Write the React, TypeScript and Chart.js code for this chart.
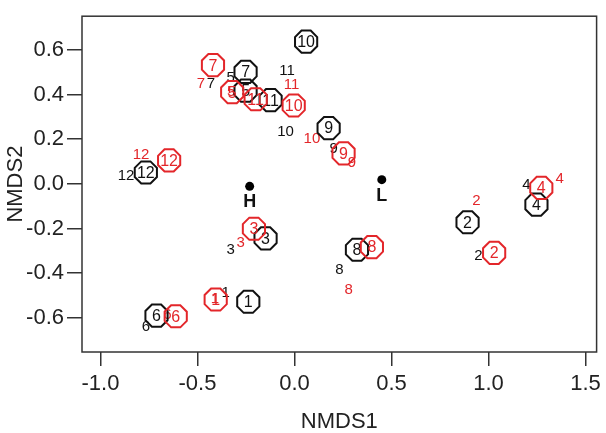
import React, { useEffect, useRef } from "react";
import { Chart, registerables } from "chart.js";

Chart.register(...registerables);

// ---- data ----
const sites = ["1", "2", "3", "4", "5", "6", "7", "8", "9", "10", "11", "12"];

const blackRingX = [-0.238, 0.892, -0.149, 1.247, -0.252, -0.711, -0.252, 0.322, 0.176, 0.06, -0.123, -0.766];
const blackRingY = [-0.528, -0.172, -0.244, -0.093, 0.418, -0.59, 0.502, -0.295, 0.25, 0.637, 0.375, 0.051];
const redRingX = [-0.406, 1.029, -0.209, 1.272, -0.321, -0.612, -0.42, 0.399, 0.253, -0.004, -0.2, -0.646];
const redRingY = [-0.518, -0.309, -0.201, -0.018, 0.411, -0.593, 0.532, -0.283, 0.137, 0.351, 0.379, 0.105];

const blackLabelX = [-0.355, 0.948, -0.329, 1.195, -0.329, -0.766, -0.43, 0.231, 0.202, -0.046, -0.038, -0.868];
const blackLabelY = [-0.489, -0.323, -0.295, -0.003, 0.476, -0.64, 0.447, -0.384, 0.159, 0.231, 0.505, 0.037];
const redLabelX = [-0.41, 0.938, -0.277, 1.367, -0.326, -0.655, -0.482, 0.279, 0.296, 0.09, -0.015, -0.791];
const redLabelY = [-0.516, -0.076, -0.263, 0.022, 0.41, -0.588, 0.447, -0.474, 0.092, 0.202, 0.443, 0.131];

const centroidNames = ["H", "L"];
const centroidX = [-0.231, 0.45];
const centroidY = [-0.011, 0.019];

const xTicks = [-1.0, -0.5, 0.0, 0.5, 1.0, 1.5];
const yTicks = [-0.6, -0.4, -0.2, 0.0, 0.2, 0.4, 0.6];

const BLACK = "#111111";
const RED = "#e3262a";
const FONT = "'Liberation Sans', Arial, sans-serif";

const toPts = (xs: number[], ys: number[]) => xs.map((x, i) => ({ x, y: ys[i] }));

const annotate = {
  id: "annotate",
  afterDatasetsDraw(chart: any) {
    const ctx = chart.ctx;
    const { left, top, right, bottom } = chart.chartArea;
    ctx.save();
    chart.data.datasets.forEach((ds: any, i: number) => {
      const meta = chart.getDatasetMeta(i);
      meta.data.forEach((el: any, j: number) => {
        const { x, y } = el.getProps(["x", "y"], true);
        const label = ds.names[j];
        if (ds.kind === "ring") {
          const R = 12;
          ctx.beginPath();
          for (let k = 0; k < 8; k++) {
            const a = Math.PI / 8 + (k * Math.PI) / 4;
            const px = x + R * Math.cos(a);
            const py = y + R * Math.sin(a);
            if (k === 0) ctx.moveTo(px, py);
            else ctx.lineTo(px, py);
          }
          ctx.closePath();
          ctx.lineWidth = 2;
          ctx.strokeStyle = ds.textColor;
          ctx.stroke();
          ctx.fillStyle = ds.textColor;
          ctx.font = `16px ${FONT}`;
          ctx.textAlign = "center";
          ctx.textBaseline = "middle";
          ctx.fillText(label, x, y + 1);
        } else if (ds.kind === "text") {
          ctx.fillStyle = ds.textColor;
          ctx.font = `15px ${FONT}`;
          ctx.textAlign = "center";
          ctx.textBaseline = "middle";
          ctx.fillText(label, x, y);
        } else if (ds.kind === "centroid") {
          ctx.fillStyle = "#111";
          ctx.font = `bold 18px ${FONT}`;
          ctx.textAlign = "center";
          ctx.textBaseline = "middle";
          ctx.fillText(label, x, y + 16);
        }
      });
    });
    ctx.strokeStyle = "#333";
    ctx.lineWidth = 1.5;
    ctx.strokeRect(left, top, right - left, bottom - top);
    ctx.restore();
  },
};

export default function App() {
  const ref = useRef<HTMLCanvasElement | null>(null);
  useEffect(() => {
    if (!ref.current) return;
    const tickFont = { family: FONT, size: 22 };
    const chart = new Chart(ref.current, {
      type: "scatter",
      data: {
        datasets: [
          { kind: "text", names: sites, textColor: BLACK, data: toPts(blackLabelX, blackLabelY), pointRadius: 0 } as any,
          { kind: "text", names: sites, textColor: RED, data: toPts(redLabelX, redLabelY), pointRadius: 0 } as any,
          { kind: "ring", names: sites, textColor: BLACK, data: toPts(blackRingX, blackRingY), pointRadius: 0 } as any,
          { kind: "ring", names: sites, textColor: RED, data: toPts(redRingX, redRingY), pointRadius: 0 } as any,
          {
            kind: "centroid",
            names: centroidNames,
            data: toPts(centroidX, centroidY),
            pointRadius: 4.5,
            backgroundColor: "#000",
            borderColor: "#000",
            borderWidth: 0,
          } as any,
        ],
      },
      options: {
        animation: false,
        responsive: false,
        events: [],
        layout: { padding: { top: 4, right: 8, left: 0, bottom: 0 } },
        plugins: { legend: { display: false }, tooltip: { enabled: false } },
        scales: {
          x: {
            type: "linear",
            min: -1.095,
            max: 1.557,
            afterBuildTicks: (s: any) => {
              s.ticks = xTicks.map((v) => ({ value: v }));
            },
            afterFit: (s: any) => {
              s.height = 81;
            },
            ticks: {
              font: tickFont,
              color: "#222",
              padding: 5,
              maxRotation: 0,
              autoSkip: false,
              callback: (v: any) => Number(v).toFixed(1),
            },
            grid: { drawOnChartArea: false, drawTicks: true, tickLength: 14, color: "#333", lineWidth: 1.5 },
            border: { display: false },
            title: {
              display: true,
              text: "NMDS1",
              color: "#222",
              font: { family: FONT, size: 22, lineHeight: 1 },
              padding: { top: 0, bottom: 0 },
            },
          },
          y: {
            type: "linear",
            min: -0.753,
            max: 0.751,
            afterBuildTicks: (s: any) => {
              s.ticks = yTicks.map((v) => ({ value: v }));
            },
            afterFit: (s: any) => {
              s.width = 82;
            },
            ticks: {
              font: tickFont,
              color: "#222",
              padding: 3,
              autoSkip: false,
              callback: (v: any) => Number(v).toFixed(1),
            },
            grid: { drawOnChartArea: false, drawTicks: true, tickLength: 15, color: "#333", lineWidth: 1.5 },
            border: { display: false },
            title: {
              display: true,
              text: "NMDS2",
              color: "#222",
              font: { family: FONT, size: 22, lineHeight: 1 },
              padding: { top: 5, bottom: 5 },
            },
          },
        },
      },
      plugins: [annotate],
    } as any);
    return () => chart.destroy();
  }, []);
  return (
    <div style={{ position: "fixed", left: 0, top: 0, width: 606, height: 433, background: "#fff" }}>
      <canvas ref={ref} width={606} height={433} style={{ width: 606, height: 433, display: "block" }} />
    </div>
  );
}
